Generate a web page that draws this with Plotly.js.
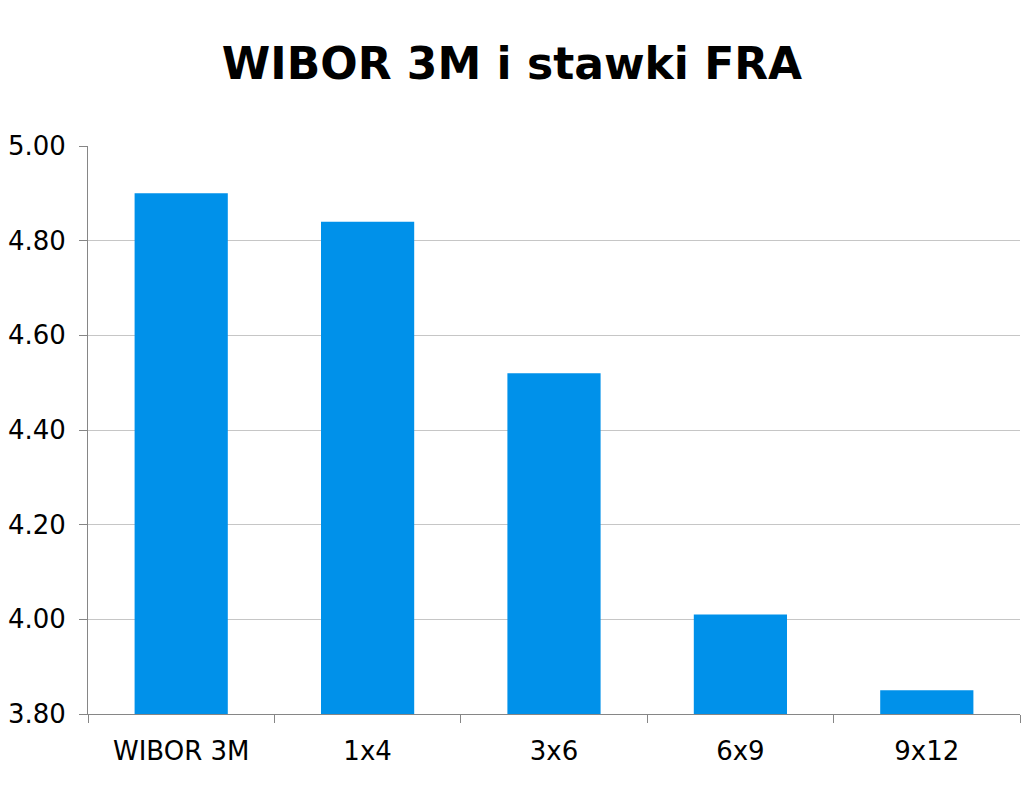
<!DOCTYPE html>
<html>
<head>
<meta charset="utf-8">
<script src="https://cdn.plot.ly/plotly-3.0.1.min.js"></script>
<style>
  html, body { margin: 0; padding: 0; background: #fff; }
  #chart { width: 1024px; height: 791px; }
</style>
</head>
<body>
<div id="chart"></div>
<script>
// WIBOR 3M and FRA rates
const categories = ['WIBOR 3M', '1x4', '3x6', '6x9', '9x12'];
const rates = [4.90, 4.84, 4.52, 4.01, 3.85];
const yTicks = [3.8, 4.0, 4.2, 4.4, 4.6, 4.8, 5.0];

const trace = {
    x: categories,
    y: rates,
    type: 'bar',
    marker: { color: '#0091EA' },
    hoverinfo: 'x+y'
};

const layout = {
    width: 1024,
    height: 791,
    title: {
        text: '<b>WIBOR 3M i stawki FRA</b>',
        font: { family: 'DejaVu Sans', size: 44, color: '#000' },
        x: 0.5,
        xanchor: 'center',
        y: 0.92,
        yanchor: 'middle'
    },
    margin: { l: 88, r: 4, t: 146, b: 77 },
    bargap: 0.5,
    showlegend: false,
    paper_bgcolor: '#fff',
    plot_bgcolor: '#fff',
    font: { family: 'DejaVu Sans', color: '#000' },
    xaxis: {
        tickson: 'boundaries',
        ticks: 'outside',
        ticklen: 8,
        tickcolor: '#868686',
        showline: true,
        linecolor: '#868686',
        linewidth: 1,
        showgrid: false,
        tickfont: { size: 26, color: '#000' },
        ticklabelstandoff: 14
    },
    yaxis: {
        range: [3.8, 5.0],
        tickvals: yTicks,
        tickformat: '.2f',
        ticks: 'outside',
        ticklen: 8,
        tickcolor: '#868686',
        showline: true,
        linecolor: '#868686',
        linewidth: 1,
        gridcolor: '#c6c6c6',
        zeroline: false,
        tickfont: { size: 26, color: '#000' },
        ticklabelstandoff: 8
    }
};

Plotly.newPlot('chart', [trace], layout, { displayModeBar: false, staticPlot: true });
</script>
</body>
</html>
